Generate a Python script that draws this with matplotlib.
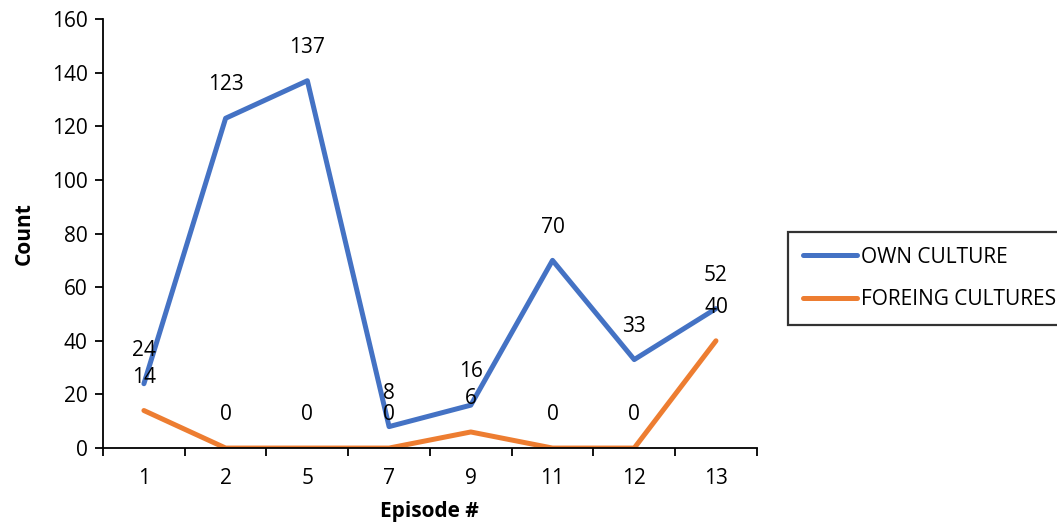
import matplotlib.pyplot as plt
import numpy as np

plt.rcParams['font.family'] = ['Open Sans', 'DejaVu Sans']

episodes = ['1', '2', '5', '7', '9', '11', '12', '13']
own_culture = [24, 123, 137, 8, 16, 70, 33, 52]
foreign_cultures = [14, 0, 0, 0, 6, 0, 0, 40]

series = [
    ('OWN CULTURE', own_culture, '#4472C4'),
    ('FOREING CULTURES', foreign_cultures, '#ED7D31'),
]

fig = plt.figure(figsize=(10.57, 5.29), dpi=100)
ax = fig.add_axes([0.0975, 0.153, 0.6185, 0.811])

x = np.arange(len(episodes))
for name, vals, color in series:
    ax.plot(x, vals, color=color, lw=3.6, label=name, solid_capstyle='round',
            solid_joinstyle='round')
    for xi, v in zip(x, vals):
        ax.annotate(str(v), (xi, v), xytext=(0, 24), textcoords='offset points',
                    ha='center', va='center', fontsize=15, color='black')

ax.set_xlim(-0.5, len(episodes) - 0.5)
ax.set_ylim(0, 160)
ax.set_yticks(np.arange(0, 161, 20))
ax.set_xticks(x)
ax.set_xticklabels(episodes)
ax.set_xticks(np.arange(-0.5, len(episodes)), minor=True)
ax.tick_params(axis='x', which='major', length=0, pad=14, labelsize=15)
ax.tick_params(axis='x', which='minor', length=6, width=1.3, direction='out')
ax.tick_params(axis='y', length=6, width=1.3, direction='out', labelsize=15, pad=5)

for side in ['top', 'right']:
    ax.spines[side].set_visible(False)
for side in ['left', 'bottom']:
    ax.spines[side].set_linewidth(1.3)

ax.set_xlabel('Episode #', fontsize=15, fontweight='bold', labelpad=9)
ax.set_ylabel('Count', fontsize=15, fontweight='bold', labelpad=12)

leg = fig.legend(loc='upper left', bbox_to_anchor=(788 / 1057, 1 - 232 / 529),
                 fontsize=15, frameon=True, fancybox=False, edgecolor='black',
                 handlelength=2.6, handletextpad=0.2, labelspacing=1.05,
                 borderpad=0.7, borderaxespad=0)
leg.get_frame().set_linewidth(1.6)

fig.savefig('out.png', dpi=100)
